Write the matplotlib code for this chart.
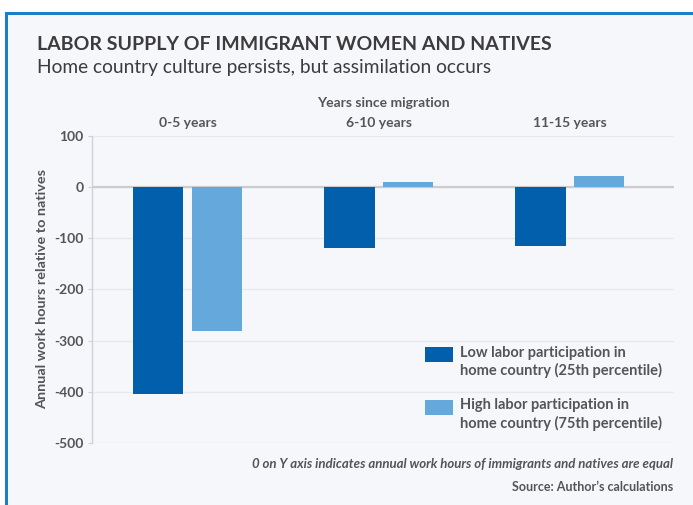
import matplotlib
matplotlib.use("Agg")
import matplotlib.pyplot as plt
from matplotlib.patches import Rectangle
import numpy as np

plt.rcParams['font.family'] = ['Lato', 'DejaVu Sans']

categories = ["0-5 years", "6-10 years", "11-15 years"]
low_participation = [-405, -120, -115]
high_participation = [-281, 10, 21]
series_labels = ["Low labor participation in\nhome country (25th percentile)",
                 "High labor participation in\nhome country (75th percentile)"]
yticks = [100, 0, -100, -200, -300, -400, -500]

W, H = 693, 505
fig = plt.figure(figsize=(W / 100, H / 100), dpi=100)
fig.patch.set_facecolor("white")

def fx(px):
    return px / W

def fy(py):
    return 1 - py / H

bg = "#f5f7fb"
border = "#1a7fc8"
# background panel
fig.patches.append(Rectangle((fx(5), 0), 1 - fx(5), fy(12), transform=fig.transFigure,
                             facecolor=bg, edgecolor="none", zorder=-2))
# top and left border lines
fig.patches.append(Rectangle((fx(5), fy(15)), 1 - fx(5), 3 / H, transform=fig.transFigure,
                             facecolor=border, edgecolor="none", zorder=-1))
fig.patches.append(Rectangle((fx(5), 0), 3 / W, fy(12), transform=fig.transFigure,
                             facecolor=border, edgecolor="none", zorder=-1))

ax_left, ax_right = 92, 674
ax_top, ax_bot = 135.7, 443
ax = fig.add_axes([fx(ax_left), fy(ax_bot), (ax_right - ax_left) / W, (ax_bot - ax_top) / H])
ax.set_facecolor("none")
ax.set_zorder(5)

dark = "#015fac"
light = "#65a8dc"
colors = [dark, light]
x = np.arange(len(categories))
bw = 0.262
off = 0.152
ax.bar(x - off, low_participation, width=bw, color=dark, zorder=3)
ax.bar(x + off, high_participation, width=bw, color=light, zorder=3)

ax.set_xlim(-0.5, 2.547)
ax.set_ylim(-500, 100)
ax.set_yticks(yticks)
ax.set_yticklabels([str(v) for v in yticks])
ax.grid(axis="y", color="#e6e9ee", linewidth=1, zorder=0)
ax.axhline(0, color="#cccccc", linewidth=1.6, zorder=2)
for s in ["top", "right", "bottom"]:
    ax.spines[s].set_visible(False)
ax.spines["left"].set_color("#cfd3d8")
ax.spines["left"].set_linewidth(1)
ax.tick_params(axis="y", length=3, color="#cfd3d8", labelsize=10, labelcolor="#555555", pad=3)
for t in ax.get_yticklabels():
    t.set_fontweight("bold")
ax.set_xticks([])

ax.set_ylabel("Annual work hours relative to natives", fontsize=10.4, color="#555555",
              fontweight="bold")
ax.yaxis.set_label_coords((48 - ax_left) / (ax_right - ax_left), 0.5)

# category labels on top
for i, c in enumerate(categories):
    ax.text(i, 1.0 + 12.5 / (ax_bot - ax_top), c, transform=ax.get_xaxis_transform(),
            ha="center", va="center", fontsize=10, color="#555555", fontweight="bold")
fig.text(fx(383), fy(103), "Years since migration", ha="center", va="center",
         fontsize=10, color="#555555", fontweight="bold")

# legend (handle aligned with first text line)
def axc(px, py):
    return ((px - ax_left) / (ax_right - ax_left), (ax_bot - py) / (ax_bot - ax_top))

leg_tops = [347, 399.5]
for lab, col, top in zip(series_labels, colors, leg_tops):
    x0, y0 = axc(425, top + 15)
    x1, y1 = axc(453, top)
    ax.add_patch(Rectangle((x0, y0), x1 - x0, y1 - y0, transform=ax.transAxes,
                           facecolor=col, edgecolor="none", zorder=4, clip_on=False))
    tx, ty = axc(460, top - 1)
    ax.text(tx, ty, lab, transform=ax.transAxes, ha="left", va="top", fontsize=10.5,
            color="#555555", fontweight="bold", linespacing=1.25)

fig.text(fx(37), fy(44), "LABOR SUPPLY OF IMMIGRANT WOMEN AND NATIVES", ha="left", va="center",
         fontsize=14, fontweight="bold", color="#3c3c3c")
fig.text(fx(37), fy(67), "Home country culture persists, but assimilation occurs", ha="left",
         va="center", fontsize=13.8, color="#3c3c3c")
fig.text(fx(673), fy(464), "0 on Y axis indicates annual work hours of immigrants and natives are equal",
         ha="right", va="center", fontsize=9.5, style="italic", color="#555555", fontweight="bold")
fig.text(fx(673), fy(487), "Source: Author\u2019s calculations", ha="right", va="center",
         fontsize=9, color="#555555", fontweight="bold")

fig.savefig("out.png", dpi=100, facecolor="white")
